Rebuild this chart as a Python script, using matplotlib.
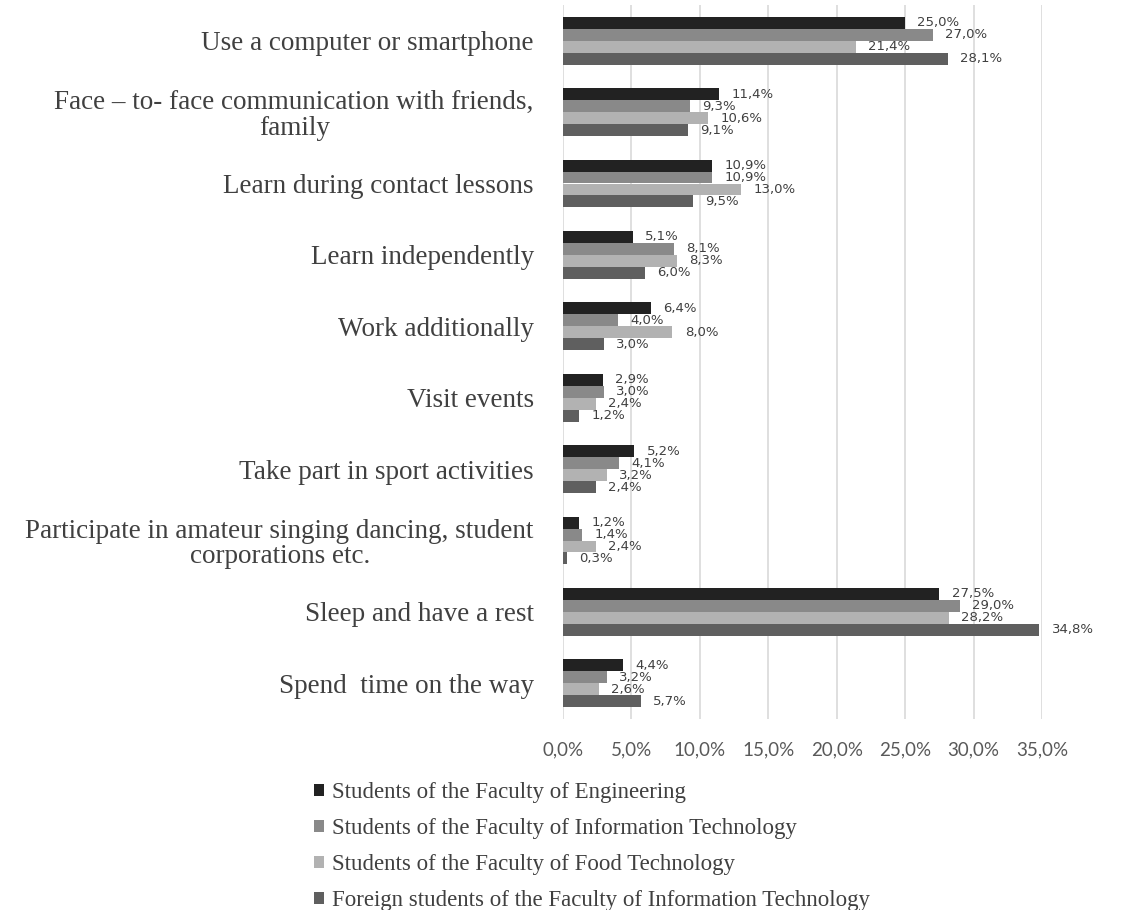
import matplotlib
matplotlib.use("Agg")
import matplotlib.pyplot as plt
import numpy as np

categories = [
    "Use a computer or smartphone",
    "Face \u2013 to- face communication with friends,\nfamily",
    "Learn during contact lessons",
    "Learn independently",
    "Work additionally",
    "Visit events",
    "Take part in sport activities",
    "Participate in amateur singing dancing, student\ncorporations etc.",
    "Sleep and have a rest",
    "Spend  time on the way",
]
series_names = [
    "Students of the Faculty of Engineering",
    "Students of the Faculty of Information Technology",
    "Students of the Faculty of Food Technology",
    "Foreign students of the Faculty of Information Technology",
]
engineering = [25.0, 11.4, 10.9, 5.1, 6.4, 2.9, 5.2, 1.2, 27.5, 4.4]
info_tech = [27.0, 9.3, 10.9, 8.1, 4.0, 3.0, 4.1, 1.4, 29.0, 3.2]
food_tech = [21.4, 10.6, 13.0, 8.3, 8.0, 2.4, 3.2, 2.4, 28.2, 2.6]
foreign_it = [28.1, 9.1, 9.5, 6.0, 3.0, 1.2, 2.4, 0.3, 34.8, 5.7]
x_ticks = [0, 5, 10, 15, 20, 25, 30, 35]

series = [engineering, info_tech, food_tech, foreign_it]
colors = ["#222222", "#898989", "#b2b2b2", "#5f5f5f"]

fig = plt.figure(figsize=(11.3, 9.1), dpi=100)
ax = fig.add_axes([563 / 1130, 1 - 719 / 910, (1042 - 563) / 1130, (719 - 5) / 910])

n = len(categories)
y = np.arange(n)
bh = 0.168
for i, (vals, c, name) in enumerate(zip(series, colors, series_names)):
    pos = y + (i - 1.5) * bh
    ax.barh(pos, vals, height=bh, color=c, label=name, zorder=2)
    for p, v in zip(pos, vals):
        ax.text(v + 0.9, p, f"{v:.1f}%".replace(".", ","), va="center", ha="left",
                fontsize=9.5, color="#404040", family="DejaVu Sans", zorder=3)

ax.set_ylim(n - 0.5, -0.5)
ax.set_xlim(0, 35)
ax.set_xticks(x_ticks)
ax.set_xticklabels([f"{t:.1f}%".replace(".", ",") for t in x_ticks],
                   fontsize=13.5, color="#595959", family="Lato")
ax.set_yticks(y)
ax.set_yticklabels(categories, fontsize=19.5, color="#404040", family="Liberation Serif",
                   multialignment="center", linespacing=1.05)
ax.tick_params(axis="y", length=0, pad=21)
ax.tick_params(axis="x", length=0, pad=16)
for s in ax.spines.values():
    s.set_visible(False)
ax.grid(axis="x", color="#d9d9d9", linewidth=1.2, zorder=0)
ax.set_axisbelow(True)

handles, labels = ax.get_legend_handles_labels()
leg = fig.legend(handles, labels, loc="upper left", bbox_to_anchor=(298 / 1130, 1 - 766 / 910),
                 frameon=False, prop={"family": "Liberation Serif", "size": 16.5},
                 handlelength=0.45, handleheight=0.45, handletextpad=0.35, labelspacing=0.66,
                 borderpad=0.2)
for t in leg.get_texts():
    t.set_color("#404040")

fig.savefig("out.png", dpi=100)
